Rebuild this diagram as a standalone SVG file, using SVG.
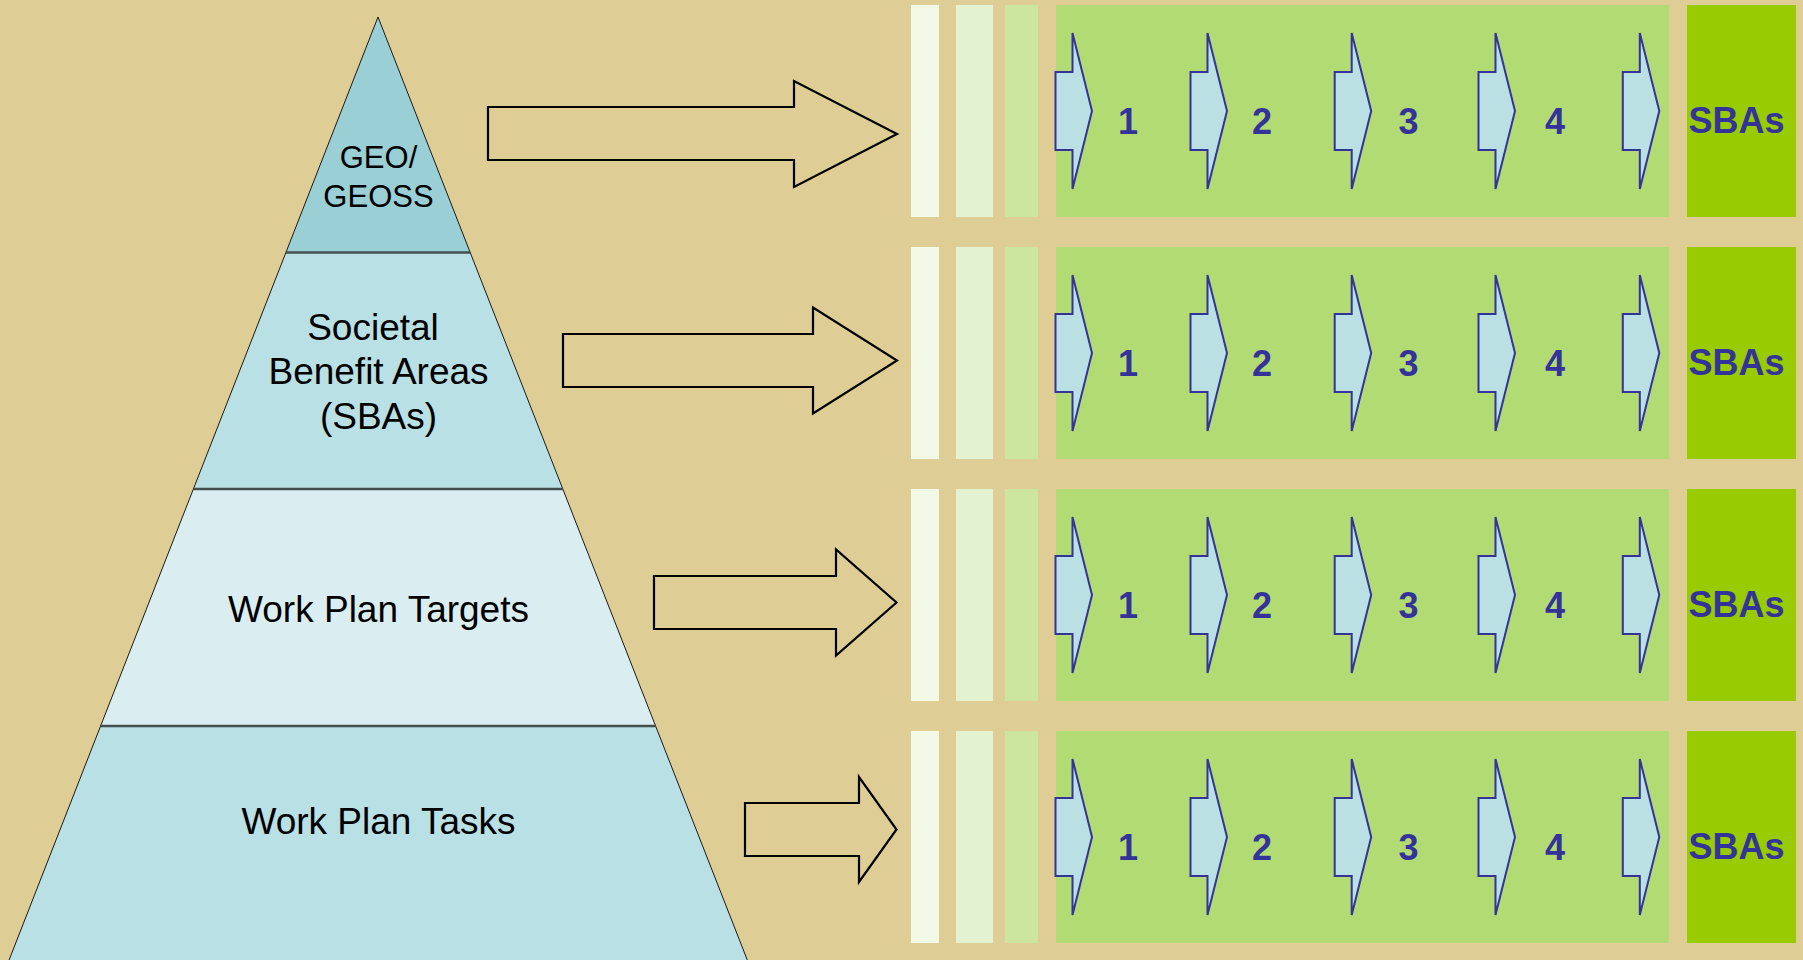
<svg xmlns="http://www.w3.org/2000/svg" width="1803" height="960" viewBox="0 0 1803 960">
<defs>
<style>
.bg{fill:#DECE96}
.pyr{stroke:#1a1a1a;stroke-width:1}
.div{stroke:#44504F;stroke-width:2.5}
.ptxt{font-family:"Liberation Sans",Arial,sans-serif;fill:#000;text-anchor:middle}
.big{fill:#DECE96;stroke:#000;stroke-width:2.2;stroke-linejoin:miter}
.s1{fill:#F2F9E7}
.s2{fill:#E3F2D1}
.s3{fill:#CCE6A0}
.main{fill:#B3DB74}
.sba{fill:#99CC00}
.chev{fill:#BAE0E3;stroke:#333399;stroke-width:2;stroke-linejoin:miter}
.num{font-family:"Liberation Sans",Arial,sans-serif;font-weight:bold;font-size:36px;fill:#333399;text-anchor:middle}
</style>
<g id="chevrons">
<polygon class="chev" points="0,-39 17,-39 17,-78 36.5,0 17,78 17,39 0,39"/>
</g>
<g id="rowtpl">
<rect class="s1" x="911" y="-106" width="28" height="212"/>
<rect class="s2" x="956" y="-106" width="37" height="212"/>
<rect class="s3" x="1005" y="-106" width="33" height="212"/>
<rect class="main" x="1056" y="-106" width="613" height="212"/>
<rect class="sba" x="1687" y="-106" width="109" height="212"/>
<use href="#chevrons" x="1055.5" y="0"/>
<use href="#chevrons" x="1190.5" y="0"/>
<use href="#chevrons" x="1334.7" y="0"/>
<use href="#chevrons" x="1478.5" y="0"/>
<use href="#chevrons" x="1622.8" y="0"/>
<text class="num" x="1128" y="23">1</text>
<text class="num" x="1262" y="23">2</text>
<text class="num" x="1408.5" y="23">3</text>
<text class="num" x="1555" y="23">4</text>
<text class="num" x="1736.5" y="22" font-size="37">SBAs</text>
</g>
</defs>
<rect class="bg" x="0" y="0" width="1803" height="960"/>

<g id="pyramid">
<g id="layer-geo">
<polygon class="pyr" fill="#99CFD5" points="378,17 470.2,252.5 285.9,252.5"/>
<text class="ptxt" font-size="31" x="378.5" y="168.3">GEO/</text>
<text class="ptxt" font-size="31" x="378.5" y="206.7">GEOSS</text>
</g>
<g id="layer-sba">
<polygon class="pyr" fill="#B9E0E4" points="285.9,252.5 470.2,252.5 562.8,489 193.4,489"/>
<text class="ptxt" font-size="37" x="373" y="340">Societal</text>
<text class="ptxt" font-size="37" x="378.5" y="384">Benefit Areas</text>
<text class="ptxt" font-size="37" x="378.5" y="429">(SBAs)</text>
</g>
<g id="layer-targets">
<polygon class="pyr" fill="#DAEEF1" points="193.4,489 562.8,489 655.6,726 100.6,726"/>
<text class="ptxt" font-size="37" x="378.5" y="622">Work Plan Targets</text>
</g>
<g id="layer-tasks">
<polygon class="pyr" fill="#B9E0E4" points="100.6,726 655.6,726 747.7,961 8.7,961"/>
<text class="ptxt" font-size="37" x="378.5" y="834">Work Plan Tasks</text>
</g>
<line class="div" x1="285.9" y1="252.5" x2="470.2" y2="252.5"/>
<line class="div" x1="193.4" y1="489" x2="562.8" y2="489"/>
<line class="div" x1="100.6" y1="726" x2="655.6" y2="726"/>
</g>

<g id="connectors">
<polygon class="big" points="488,107 794,107 794,81 897,134 794,187 794,160 488,160"/>
<polygon class="big" points="563,334 813,334 813,307.5 897,360.5 813,413.5 813,387 563,387"/>
<polygon class="big" points="654,576 836,576 836,549.5 896.5,602.5 836,655.5 836,629 654,629"/>
<polygon class="big" points="745,803 859,803 859,777 896.5,829.5 859,882 859,856 745,856"/>
</g>

<g id="row-1"><use href="#rowtpl" x="0" y="111"/></g>
<g id="row-2"><use href="#rowtpl" x="0" y="353"/></g>
<g id="row-3"><use href="#rowtpl" x="0" y="595"/></g>
<g id="row-4"><use href="#rowtpl" x="0" y="837"/></g>
</svg>
